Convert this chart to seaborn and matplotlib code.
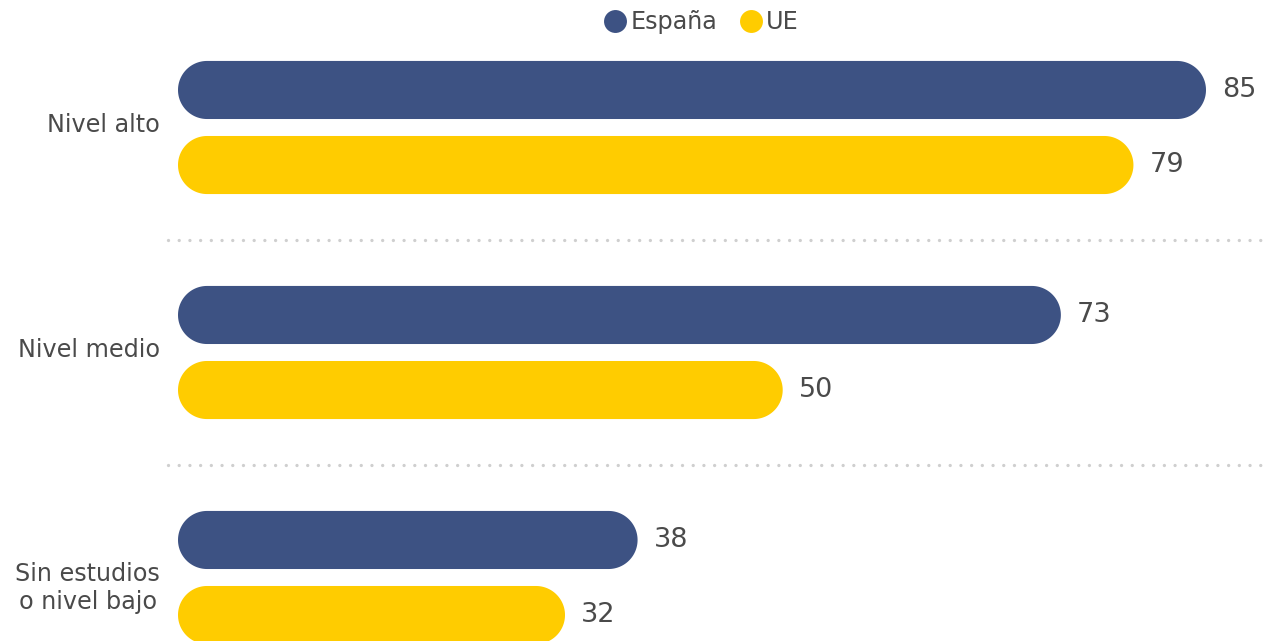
import matplotlib
matplotlib.use("Agg")
import numpy as np
import matplotlib.pyplot as plt
import matplotlib.transforms as mtransforms
import seaborn as sns
import pandas as pd
from matplotlib.patches import Polygon
from matplotlib.lines import Line2D

categories = ["Nivel alto", "Nivel medio", "Sin estudios\no nivel bajo"]
series = ["España", "UE"]
espana = [85, 73, 38]
ue = [79, 50, 32]
colors = {"España": "#3D5283", "UE": "#FFCC00"}
text_color = "#4A4A4A"

df = pd.DataFrame({
    "nivel": categories * 2,
    "serie": [series[0]] * 3 + [series[1]] * 3,
    "valor": espana + ue,
})

sns.set_theme(style="white")
plt.rcParams["font.family"] = ["DejaVu Sans"]
plt.rcParams["lines.scale_dashes"] = False

W, H = 1264, 641
fig = plt.figure(figsize=(W / 100, H / 100), dpi=100)
px_per_unit = (1206 - 178) / 85
xmax = 90
ax = fig.add_axes([178 / W, 0, xmax * px_per_unit / W, 1])

sns.barplot(data=df, y="nivel", x="valor", hue="serie", order=categories,
            hue_order=series, palette=colors, orient="h", width=0.667,
            gap=0.226, ax=ax, legend=False, saturation=1)

y_top = -127.5 / 225
y_bot = (H - 127.5) / 225
ax.set_xlim(0, xmax)
ax.set_ylim(y_bot, y_top)

fig.canvas.draw()
p0 = ax.transData.transform((0, 0))
p1 = ax.transData.transform((1, 1))
ppx = abs(p1[0] - p0[0])
ppy = abs(p1[1] - p0[1])

bars = list(ax.patches)
for p in bars:
    x0, y0 = p.get_x(), p.get_y()
    w, h = p.get_width(), p.get_height()
    if w <= 0:
        continue
    yc = y0 + h / 2
    ry = abs(h) / 2
    rx = ry * ppy / ppx
    fc = p.get_facecolor()
    p.remove()
    t_r = np.linspace(-np.pi / 2, np.pi / 2, 60)
    t_l = np.linspace(np.pi / 2, 3 * np.pi / 2, 60)
    xs = np.concatenate([x0 + w - rx + rx * np.cos(t_r), x0 + rx + rx * np.cos(t_l)])
    ys = np.concatenate([yc + ry * np.sin(t_r), yc + ry * np.sin(t_l)])
    poly = Polygon(np.column_stack([xs, ys]), closed=True, facecolor=fc,
                   edgecolor="none", linewidth=0)
    ax.add_patch(poly)
    ax.annotate(f"{int(round(w))}", xy=(w, yc), xytext=(11.5, 0),
                textcoords="offset points", ha="left", va="center",
                fontsize=19.5, color=text_color, annotation_clip=False)

ax.hlines([0.5, 1.5], xmin=-0.8, xmax=89.9, colors="#CFCFCF",
          linewidth=2.4, linestyles=[(0, (0.01, 7.7))], capstyle="round",
          clip_on=False)

ax.set_xlabel("")
ax.set_ylabel("")
ax.set_xticks([])
ax.tick_params(axis="y", length=0, pad=13)
label_shift_px = [5, 5, -6]
for lbl, dy in zip(ax.get_yticklabels(), label_shift_px):
    lbl.set_fontsize(17.2)
    lbl.set_color(text_color)
    lbl.set_multialignment("center")
    lbl.set_transform(lbl.get_transform() +
                      mtransforms.ScaledTranslation(0, dy / 100, fig.dpi_scale_trans))
for s in ax.spines.values():
    s.set_visible(False)

handles = [Line2D([], [], marker="o", linestyle="none", markersize=16.5,
                  markerfacecolor=colors[s], markeredgecolor="none")
           for s in series]
leg = fig.legend(handles, series, loc="center", ncol=2, frameon=False,
                 bbox_to_anchor=(701 / W, 1 - 22 / H),
                 bbox_transform=fig.transFigure, fontsize=17.2,
                 handletextpad=0.15, columnspacing=0.9, handlelength=1.0,
                 labelcolor=text_color)

fig.savefig("out.png", dpi=100)
